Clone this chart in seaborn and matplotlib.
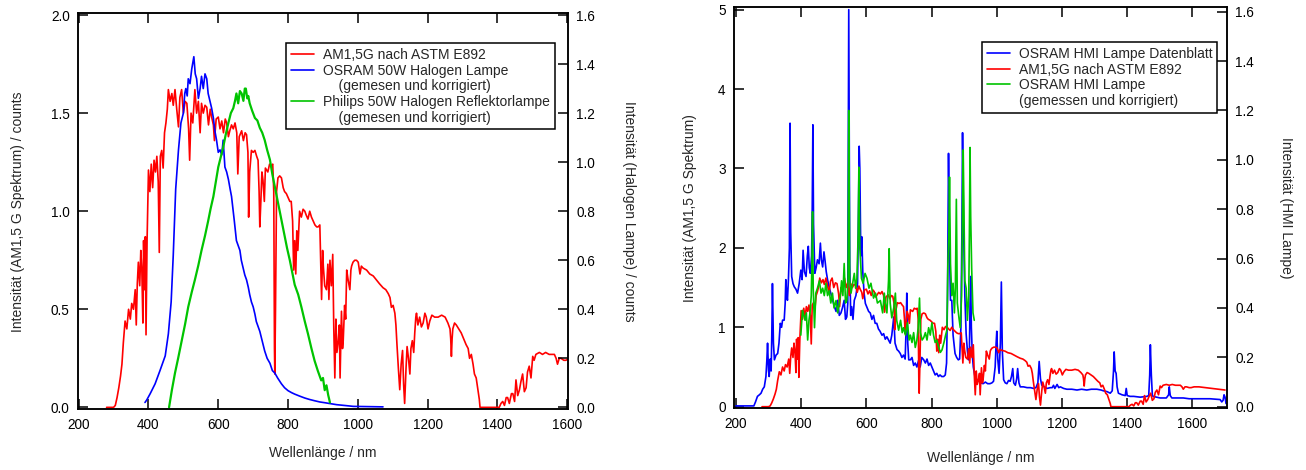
import matplotlib
matplotlib.use("Agg")
import matplotlib.pyplot as plt
from matplotlib.lines import Line2D
import numpy as np
import pandas as pd
import seaborn as sns

# ---------------- data (wavelength nm, intensity) ----------------
# AM1.5G spectrum (left axes of both panels)
am15g = [
    (280, 0.0), (300, 0.0), (305, 0.01), (310, 0.05), (315, 0.10), (320, 0.16), (324, 0.22),
    (328, 0.33), (333, 0.44), (338, 0.40), (343, 0.50), (348, 0.45), (352, 0.53), (357, 0.50),
    (362, 0.60), (365, 0.42), (368, 0.63), (371, 0.74), (375, 0.62), (378, 0.80), (381, 0.70),
    (384, 0.43), (386, 0.85), (389, 0.60), (391, 0.87), (393, 0.37), (396, 0.85), (400, 1.21),
    (404, 1.10), (408, 1.24), (412, 1.12), (416, 1.26), (420, 1.20), (424, 1.28), (428, 1.15),
    (431, 0.79), (434, 1.28), (438, 1.31), (442, 1.22), (446, 1.40), (450, 1.45), (454, 1.52),
    (457, 1.62), (462, 1.56), (467, 1.60), (471, 1.54), (476, 1.62), (481, 1.52), (486, 1.43),
    (490, 1.58), (495, 1.62), (500, 1.50), (505, 1.56), (510, 1.55), (515, 1.42), (518, 1.26),
    (522, 1.50), (527, 1.45), (533, 1.62), (538, 1.50), (543, 1.56), (548, 1.40), (552, 1.55),
    (557, 1.50), (562, 1.54), (567, 1.53), (572, 1.44), (577, 1.52), (581, 1.48), (586, 1.44),
    (589, 1.36), (594, 1.47), (600, 1.48), (605, 1.42), (610, 1.46), (615, 1.40), (620, 1.47),
    (624, 1.45), (629, 1.38), (633, 1.41), (638, 1.44), (643, 1.42), (648, 1.45), (653, 1.40),
    (656, 1.19), (660, 1.38), (667, 1.41), (672, 1.36), (677, 1.40), (681, 1.39), (685, 1.30),
    (687, 0.97), (690, 1.20), (695, 1.31), (700, 1.30), (705, 1.31), (710, 1.28), (714, 1.26),
    (717, 1.10), (719, 0.92), (722, 1.05), (725, 1.20), (728, 1.16), (732, 1.05), (735, 1.22),
    (742, 1.20), (747, 1.24), (752, 1.23), (756, 1.24), (759, 1.10), (761, 0.30), (762, 0.17),
    (764, 0.50), (767, 1.10), (771, 1.17), (776, 1.18), (781, 1.17), (786, 1.12), (790, 1.10),
    (795, 1.09), (800, 1.07), (805, 1.05), (809, 1.05), (813, 0.95), (816, 0.70), (819, 0.85),
    (822, 0.68), (825, 0.90), (828, 0.80), (833, 1.00), (838, 0.97), (843, 1.01), (848, 1.00),
    (852, 0.98), (857, 0.96), (862, 1.00), (867, 0.97), (872, 0.95), (877, 0.93), (882, 0.92),
    (886, 0.92), (891, 0.93), (896, 0.55), (899, 0.80), (901, 0.72), (905, 0.62), (910, 0.60),
    (914, 0.73), (917, 0.55), (920, 0.75), (924, 0.62), (928, 0.78), (931, 0.40), (934, 0.15),
    (937, 0.45), (940, 0.28), (944, 0.34), (947, 0.42), (949, 0.15), (953, 0.49), (956, 0.30),
    (958, 0.34), (962, 0.52), (965, 0.45), (968, 0.70), (972, 0.65), (977, 0.60), (980, 0.70),
    (982, 0.72), (986, 0.74), (991, 0.75), (996, 0.75), (1001, 0.74), (1006, 0.68), (1010, 0.72),
    (1015, 0.71), (1025, 0.70), (1034, 0.68), (1044, 0.67), (1053, 0.65), (1062, 0.63),
    (1072, 0.61), (1080, 0.60), (1087, 0.58), (1092, 0.56), (1096, 0.51), (1101, 0.52),
    (1106, 0.48), (1109, 0.42), (1112, 0.32), (1116, 0.20), (1120, 0.09), (1124, 0.22),
    (1128, 0.29), (1131, 0.12), (1134, 0.02), (1138, 0.20), (1141, 0.31), (1145, 0.25),
    (1149, 0.17), (1152, 0.30), (1156, 0.34), (1160, 0.28), (1163, 0.38), (1166, 0.46),
    (1168, 0.48), (1172, 0.42), (1177, 0.46), (1182, 0.41), (1187, 0.43), (1192, 0.48),
    (1196, 0.46), (1201, 0.40), (1206, 0.44), (1212, 0.47), (1220, 0.46), (1230, 0.46),
    (1240, 0.47), (1250, 0.46), (1258, 0.43), (1264, 0.40), (1266, 0.35), (1268, 0.26),
    (1270, 0.35), (1272, 0.40), (1277, 0.43), (1282, 0.42), (1289, 0.40), (1296, 0.38),
    (1303, 0.35), (1310, 0.32), (1316, 0.30), (1320, 0.25), (1325, 0.27), (1330, 0.22),
    (1334, 0.17), (1339, 0.15), (1344, 0.09), (1348, 0.04), (1350, 0.0), (1400, 0.0),
    (1405, 0.0), (1410, 0.02), (1415, 0.03), (1420, 0.01), (1425, 0.05), (1429, 0.05),
    (1434, 0.02), (1440, 0.07), (1444, 0.07), (1449, 0.03), (1453, 0.14), (1458, 0.06),
    (1463, 0.09), (1467, 0.13), (1472, 0.17), (1477, 0.08), (1482, 0.10), (1486, 0.18),
    (1491, 0.21), (1496, 0.15), (1501, 0.26), (1505, 0.24), (1510, 0.27), (1520, 0.28),
    (1529, 0.27), (1538, 0.28), (1548, 0.27), (1556, 0.27), (1563, 0.27), (1568, 0.25),
    (1572, 0.22), (1577, 0.25), (1582, 0.25), (1590, 0.24), (1596, 0.24), (1605, 0.25),
    (1620, 0.25), (1640, 0.24), (1660, 0.23), (1680, 0.22), (1700, 0.21),
]

# OSRAM 50W halogen lamp (right axis of left panel)
osram_halogen = [
    (390, 0.02), (395, 0.03), (405, 0.056), (419, 0.096), (433, 0.15), (448, 0.21), (457, 0.30),
    (465, 0.43), (471, 0.62), (478, 0.89), (486, 1.05), (493, 1.16), (500, 1.20), (504, 1.28),
    (507, 1.30), (511, 1.27), (514, 1.34), (519, 1.32), (524, 1.38), (530, 1.43), (534, 1.36),
    (538, 1.34), (543, 1.26), (548, 1.30), (552, 1.35), (557, 1.30), (562, 1.36), (567, 1.34),
    (571, 1.28), (576, 1.25), (581, 1.22), (586, 1.18), (590, 1.13), (595, 1.09), (600, 1.04),
    (605, 1.05), (610, 1.03), (614, 1.09), (619, 0.98), (624, 0.96), (629, 0.93), (634, 0.89),
    (638, 0.86), (642, 0.81), (646, 0.76), (652, 0.68), (657, 0.66), (662, 0.64), (666, 0.60),
    (671, 0.57), (676, 0.54), (681, 0.52), (686, 0.49), (690, 0.46), (695, 0.43), (700, 0.41),
    (705, 0.38), (709, 0.35), (714, 0.33), (719, 0.31), (726, 0.27), (733, 0.23), (740, 0.20),
    (748, 0.18), (755, 0.15), (762, 0.14), (770, 0.12), (781, 0.096), (790, 0.08), (800, 0.068),
    (810, 0.060), (819, 0.054), (833, 0.046), (848, 0.038), (862, 0.032), (876, 0.027),
    (891, 0.022), (905, 0.019), (939, 0.011), (960, 0.008), (987, 0.004), (1030, 0.003),
    (1072, 0.002),
]

# Philips 50W halogen reflector lamp (right axis of left panel)
philips_halogen = [
    (459, 0.0), (467, 0.07), (476, 0.14), (485, 0.20), (495, 0.27), (505, 0.34), (514, 0.41),
    (524, 0.47), (533, 0.52), (543, 0.58), (552, 0.64), (562, 0.70), (571, 0.76), (578, 0.81),
    (586, 0.86), (593, 0.92), (600, 0.98), (607, 1.02), (614, 1.06), (621, 1.11), (629, 1.16),
    (636, 1.20), (643, 1.22), (648, 1.25), (652, 1.28), (657, 1.24), (662, 1.29), (667, 1.28),
    (672, 1.25), (676, 1.30), (679, 1.30), (683, 1.26), (686, 1.27), (690, 1.24), (697, 1.21),
    (705, 1.18), (712, 1.17), (719, 1.14), (726, 1.12), (733, 1.09), (740, 1.05), (748, 1.01),
    (755, 0.95), (762, 0.90), (769, 0.85), (776, 0.80), (783, 0.75), (790, 0.70), (797, 0.65),
    (805, 0.60), (812, 0.55), (819, 0.50), (829, 0.46), (838, 0.41), (848, 0.35), (857, 0.30),
    (867, 0.24), (876, 0.19), (885, 0.15), (895, 0.11), (900, 0.12), (905, 0.07), (910, 0.09),
    (915, 0.05), (920, 0.02),
]

# OSRAM HMI lamp, data sheet (left axis of right panel)
hmi_datasheet = [
    (200, 0.01), (255, 0.01), (260, 0.06), (266, 0.13), (272, 0.15), (277, 0.17), (282, 0.22),
    (287, 0.25), (292, 0.38), (295, 0.60), (297, 0.80), (300, 0.45), (302, 0.38), (305, 0.60),
    (308, 0.45), (310, 0.90), (312, 1.55), (315, 0.80), (318, 0.59), (323, 0.65), (328, 0.67),
    (332, 0.80), (336, 1.05), (340, 1.00), (343, 1.09), (348, 1.09), (351, 1.30), (353, 1.60),
    (356, 1.40), (358, 1.34), (361, 1.60), (364, 2.00), (366, 3.57), (368, 2.20), (371, 1.64),
    (375, 1.55), (379, 1.51), (384, 1.48), (389, 1.43), (394, 1.55), (399, 1.72), (403, 1.60),
    (406, 1.97), (410, 1.70), (415, 1.64), (419, 1.90), (422, 2.02), (425, 1.75), (428, 1.68),
    (432, 1.90), (434, 2.50), (436, 3.55), (438, 2.30), (442, 1.68), (446, 1.75), (450, 1.85),
    (455, 1.80), (459, 2.06), (462, 1.85), (466, 1.76), (470, 1.95), (473, 1.85), (477, 1.70),
    (481, 1.60), (486, 1.50), (491, 1.43), (496, 1.35), (502, 1.26), (507, 1.20), (512, 1.34),
    (517, 1.15), (522, 1.18), (527, 1.25), (532, 1.34), (536, 1.10), (540, 1.13), (543, 1.30),
    (546, 5.00), (549, 1.80), (552, 1.15), (555, 1.26), (559, 1.10), (563, 1.34), (568, 1.40),
    (573, 1.55), (576, 2.50), (578, 3.28), (580, 3.00), (583, 1.90), (586, 2.14), (589, 1.70),
    (593, 1.43), (597, 1.30), (602, 1.25), (607, 1.20), (612, 1.18), (617, 1.10), (622, 1.15),
    (627, 1.05), (632, 1.05), (637, 0.98), (642, 0.95), (648, 0.90), (653, 0.92), (658, 0.85),
    (663, 0.88), (668, 0.84), (673, 0.80), (678, 0.90), (684, 1.13), (688, 0.80), (694, 0.72),
    (699, 0.70), (704, 0.67), (709, 0.62), (714, 0.65), (719, 0.60), (722, 1.00), (724, 1.43),
    (727, 0.80), (730, 0.59), (735, 0.59), (740, 0.62), (745, 0.52), (750, 0.55), (755, 0.50),
    (760, 0.58), (765, 0.50), (770, 0.62), (776, 0.59), (781, 0.55), (786, 0.60), (791, 0.52),
    (796, 0.55), (801, 0.50), (806, 0.45), (811, 0.40), (816, 0.42), (821, 0.38), (826, 0.40),
    (831, 0.38), (837, 0.38), (842, 0.40), (846, 0.55), (849, 1.40), (852, 3.19), (855, 2.00),
    (858, 1.34), (862, 1.34), (866, 0.90), (872, 0.67), (877, 0.62), (882, 0.59), (886, 0.60),
    (890, 1.00), (893, 2.20), (895, 3.45), (898, 2.30), (902, 1.40), (906, 0.92), (910, 0.70),
    (913, 0.59), (916, 0.70), (918, 1.30), (920, 1.64), (922, 1.00), (925, 0.65), (928, 0.50),
    (933, 0.38), (938, 0.34), (945, 0.33), (950, 0.30), (958, 0.29), (965, 0.31), (972, 0.29),
    (979, 0.29), (985, 0.30), (990, 0.32), (995, 0.50), (998, 0.80), (1000, 0.95), (1003, 0.60),
    (1007, 0.42), (1011, 0.80), (1014, 1.57), (1017, 0.70), (1021, 0.34), (1026, 0.30),
    (1031, 0.29), (1036, 0.33), (1041, 0.32), (1045, 0.38), (1049, 0.48), (1052, 0.30),
    (1057, 0.27), (1061, 0.35), (1064, 0.48), (1068, 0.30), (1072, 0.25), (1082, 0.25),
    (1093, 0.24), (1103, 0.24), (1113, 0.23), (1120, 0.24), (1126, 0.30), (1130, 0.57),
    (1134, 0.35), (1138, 0.27), (1146, 0.25), (1154, 0.23), (1164, 0.24), (1170, 0.24),
    (1174, 0.27), (1178, 0.23), (1185, 0.28), (1190, 0.24), (1195, 0.25), (1205, 0.23),
    (1215, 0.22), (1230, 0.22), (1246, 0.21), (1260, 0.22), (1276, 0.21), (1290, 0.22),
    (1307, 0.22), (1320, 0.21), (1327, 0.20), (1338, 0.19), (1348, 0.17), (1354, 0.20),
    (1358, 0.45), (1360, 0.69), (1363, 0.45), (1366, 0.42), (1369, 0.25), (1373, 0.17),
    (1384, 0.15), (1394, 0.14), (1397, 0.23), (1400, 0.14), (1409, 0.13), (1420, 0.13),
    (1440, 0.12), (1460, 0.13), (1466, 0.14), (1469, 0.40), (1471, 0.78), (1474, 0.40),
    (1477, 0.15), (1479, 0.13), (1490, 0.12), (1501, 0.11), (1520, 0.11), (1527, 0.15),
    (1529, 0.25), (1532, 0.14), (1537, 0.11), (1555, 0.11), (1572, 0.11), (1590, 0.10),
    (1613, 0.10), (1634, 0.10), (1654, 0.10), (1670, 0.095), (1685, 0.09), (1690, 0.06),
    (1694, 0.08), (1697, 0.15), (1700, 0.12), (1703, 0.04),
]

# OSRAM HMI lamp, measured and corrected (right axis of right panel)
hmi_measured = [
    (399, 0.29), (404, 0.39), (408, 0.37), (412, 0.35), (416, 0.38), (420, 0.27), (424, 0.35),
    (428, 0.39), (431, 0.45), (433, 0.58), (435, 0.79), (437, 0.48), (441, 0.32), (445, 0.46),
    (450, 0.48), (456, 0.51), (461, 0.46), (466, 0.48), (471, 0.45), (476, 0.50), (481, 0.45),
    (486, 0.47), (491, 0.42), (496, 0.46), (501, 0.40), (507, 0.43), (512, 0.38), (517, 0.42),
    (521, 0.46), (524, 0.51), (528, 0.45), (532, 0.58), (536, 0.42), (540, 0.43), (544, 0.51),
    (546, 1.20), (549, 0.51), (553, 0.46), (558, 0.50), (563, 0.54), (567, 0.48), (571, 0.52),
    (575, 0.70), (577, 0.97), (580, 0.64), (585, 0.52), (590, 0.50), (596, 0.54), (602, 0.52),
    (608, 0.48), (614, 0.50), (622, 0.44), (628, 0.46), (634, 0.42), (643, 0.43), (650, 0.38),
    (655, 0.46), (658, 0.42), (663, 0.38), (668, 0.51), (670, 0.64), (673, 0.42), (678, 0.36),
    (684, 0.40), (689, 0.46), (693, 0.35), (699, 0.31), (705, 0.35), (710, 0.30), (714, 0.32),
    (720, 0.29), (726, 0.34), (731, 0.27), (735, 0.29), (740, 0.26), (745, 0.30), (750, 0.24),
    (755, 0.27), (759, 0.32), (763, 0.44), (766, 0.30), (771, 0.27), (776, 0.28), (781, 0.30),
    (786, 0.27), (791, 0.32), (796, 0.29), (801, 0.34), (806, 0.29), (811, 0.26), (816, 0.27),
    (822, 0.24), (827, 0.22), (832, 0.23), (838, 0.26), (843, 0.29), (847, 0.31), (850, 0.58),
    (853, 0.70), (855, 0.93), (858, 0.58), (862, 0.45), (866, 0.50), (870, 0.38), (873, 0.48),
    (876, 0.84), (879, 0.42), (884, 0.36), (888, 0.32), (892, 0.45), (895, 0.80), (897, 1.04),
    (899, 0.83), (902, 0.51), (906, 0.48), (910, 0.35), (914, 0.45), (916, 0.70), (918, 1.05),
    (920, 0.77), (923, 0.56), (927, 0.38), (931, 0.35),
]

xticks_left = [200, 400, 600, 800, 1000, 1200, 1400, 1600]
yticks_left_l = [0.0, 0.5, 1.0, 1.5, 2.0]
yticks_left_r = [0.0, 0.2, 0.4, 0.6, 0.8, 1.0, 1.2, 1.4, 1.6]
xticks_right = [200, 400, 600, 800, 1000, 1200, 1400, 1600]
yticks_right_l = [0, 1, 2, 3, 4, 5]
yticks_right_r = [0.0, 0.2, 0.4, 0.6, 0.8, 1.0, 1.2, 1.4, 1.6]

legend_left = ["AM1,5G nach ASTM E892", "OSRAM 50W Halogen Lampe", "    (gemesen und korrigiert)",
               "Philips 50W Halogen Reflektorlampe", "    (gemesen und korrigiert)"]
legend_right = ["OSRAM HMI Lampe Datenblatt", "AM1,5G nach ASTM E892", "OSRAM HMI Lampe",
                "(gemessen und korrigiert)"]

RED, BLUE, GREEN = "#ff0000", "#0000ff", "#00c400"

# ---------------- style ----------------
sns.set_style("ticks")
plt.rcParams["font.family"] = ["Liberation Sans", "DejaVu Sans"]
plt.rcParams["font.size"] = 10
plt.rcParams["axes.linewidth"] = 1.1


def df(pairs):
    return pd.DataFrame(pairs, columns=["wl", "val"])


def line(ax, pairs, color, lw=1.2):
    d = df(pairs)
    sns.lineplot(data=d, x="wl", y="val", ax=ax, color=color, lw=lw,
                 estimator=None, sort=False, legend=False)


def style(ax):
    ax.tick_params(axis="both", direction="in", length=7, width=1.1, labelsize=9.8,
                   colors="black")
    ax.set_xlabel("")
    ax.set_ylabel("")
    for s in ax.spines.values():
        s.set_visible(True)
        s.set_color("black")
        s.set_linewidth(1.1)


fig = plt.figure(figsize=(13.06, 4.70), dpi=100)

# ---------------- left panel ----------------
axL = fig.add_axes([0.0597, 0.1291, 0.3752, 0.8426])
line(axL, am15g, RED)
axL2 = axL.twinx()
line(axL2, osram_halogen, BLUE)
line(axL2, philips_halogen, GREEN, lw=1.6)

axL.set_xlim(198, 1602)
axL.set_ylim(-0.01, 2.009)
axL2.set_ylim(-0.008, 1.607)
axL.set_xticks(xticks_left)
axL.set_yticks(yticks_left_l)
axL.set_yticklabels([f"{v:.1f}" for v in yticks_left_l])
axL2.set_yticks(yticks_left_r)
axL2.set_yticklabels([f"{v:.1f}" for v in yticks_left_r])
style(axL)
style(axL2)
axL.tick_params(top=True, right=False, pad=6)
axL2.tick_params(axis="y", pad=6)

axL.set_xlabel("Wellenlänge / nm", fontsize=10, va="center")
axL.xaxis.set_label_coords(0.5, -0.110)
axL.set_ylabel("Intensität (AM1,5 G Spektrum) / counts", fontsize=10, va="center")
axL.yaxis.set_label_coords(-0.1224, 0.5)
axL2.set_ylabel("Intensität (Halogen Lampe) / counts", fontsize=10, rotation=-90, va="center")
axL2.yaxis.set_label_coords(1.1245, 0.5)

# ---------------- right panel ----------------
axR = fig.add_axes([0.5620, 0.1313, 0.3775, 0.8532])
line(axR, hmi_datasheet, BLUE)
line(axR, am15g, RED)
axR2 = axR.twinx()
line(axR2, hmi_measured, GREEN)

axR.set_xlim(194, 1706)
axR.set_ylim(-0.02, 5.03)
axR2.set_ylim(-0.0065, 1.618)
axR.set_xticks(xticks_right)
axR.set_yticks(yticks_right_l)
axR.set_yticklabels([str(v) for v in yticks_right_l])
axR2.set_yticks(yticks_right_r)
axR2.set_yticklabels([f"{v:.1f}" for v in yticks_right_r])
style(axR)
style(axR2)
axR.tick_params(top=True, right=False, pad=6)
axR2.tick_params(axis="y", pad=6)

axR.set_xlabel("Wellenlänge / nm", fontsize=10, va="center")
axR.xaxis.set_label_coords(0.5, -0.124)
axR.set_ylabel("Intensität (AM1,5 G Spektrum)", fontsize=10, va="center")
axR.yaxis.set_label_coords(-0.0892, 0.5)
axR2.set_ylabel("Intensität (HMI Lampe)", fontsize=10, rotation=-90, va="center")
axR2.yaxis.set_label_coords(1.1197, 0.5)

# ---------------- legends ----------------
def handles(colors):
    return [Line2D([], [], color=c if c else "none", lw=1.2) for c in colors]


leg_kw = dict(loc="upper left", frameon=True, fancybox=False, edgecolor="black",
              framealpha=1, fontsize=10, handlelength=1.7, handletextpad=0.6,
              borderpad=0.35, labelspacing=0.12, borderaxespad=0)
lg1 = fig.legend(handles([RED, BLUE, None, GREEN, None]), legend_left,
                 bbox_to_anchor=(286 / 1306, 1 - 43 / 470), **leg_kw)
lg2 = fig.legend(handles([BLUE, RED, GREEN, None]), legend_right,
                 bbox_to_anchor=(982 / 1306, 1 - 42 / 470), **leg_kw)
for lg in (lg1, lg2):
    lg.get_frame().set_linewidth(1.1)

fig.savefig("out.png", dpi=100)
